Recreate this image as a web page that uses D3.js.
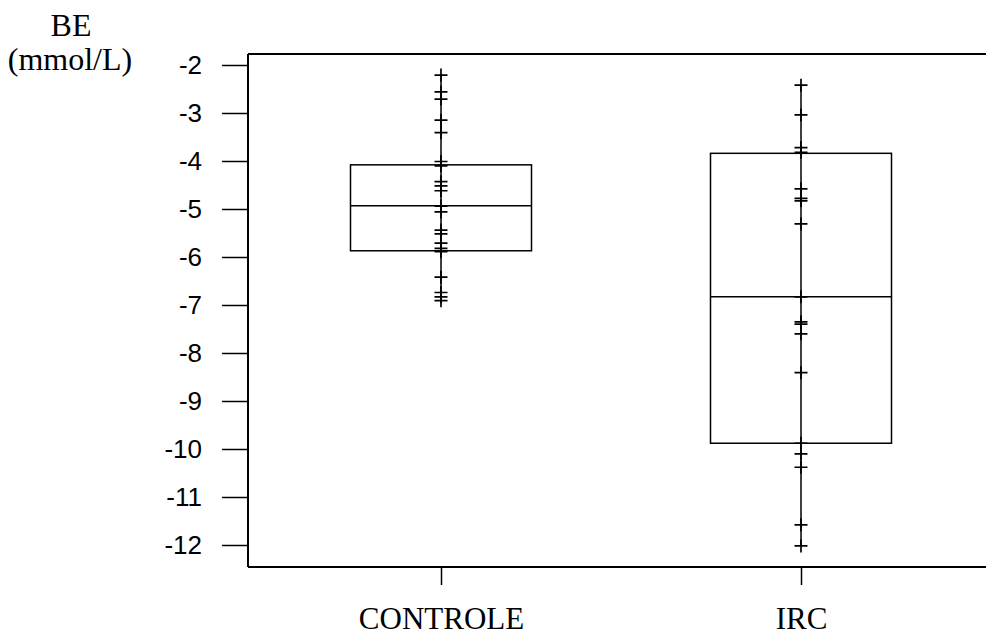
<!DOCTYPE html>
<html>
<head>
<meta charset="utf-8">
<script src="https://cdn.jsdelivr.net/npm/d3@7"></script>
<style>
  html, body { margin: 0; padding: 0; background: #fff; }
  svg { display: block; }
</style>
</head>
<body>
<svg id="chart" width="986" height="636"></svg>
<script>
// Groups shown along the horizontal axis
const groups = ["CONTROLE", "IRC"];

// Individual BE readings (mmol/L) per group
const controleValues = [-2.21, -2.56, -2.71, -3.15, -3.41, -4.01, -4.10, -4.43, -4.52, -4.62,
  -4.94, -5.06, -5.44, -5.52, -5.71, -5.82, -5.89, -6.42, -6.74, -6.83, -6.91];
const ircValues = [-2.42, -3.04, -3.72, -3.82, -4.58, -4.78, -4.83, -5.31, -6.83, -7.35,
  -7.40, -7.60, -8.41, -9.88, -10.10, -10.38, -11.58, -12.02];

// Box summaries: upper quartile, median, lower quartile
const boxUpper = [-4.08, -3.84];
const boxMedian = [-4.93, -6.83];
const boxLower = [-5.87, -9.88];

// Axis ticks
const yTicks = [-2, -3, -4, -5, -6, -7, -8, -9, -10, -11, -12];

const svg = d3.select("#chart");
const frameLeft = 248, frameRight = 986, frameTop = 54, frameBottom = 567;

const y = d3.scaleLinear().domain([-2, -12]).range([65, 545]);
const x = d3.scalePoint().domain(groups).range([441, 801]);
const boxHalf = 90.5;
const crossHalf = 6.5;

const ink = "#000";
const serif = "'Times New Roman', 'Liberation Serif', serif";

// Frame: top line and left axis
svg.append("line").attr("x1", frameLeft).attr("x2", frameRight).attr("y1", frameTop).attr("y2", frameTop)
  .attr("stroke", ink).attr("stroke-width", 2);
svg.append("line").attr("x1", frameLeft).attr("x2", frameLeft).attr("y1", frameTop).attr("y2", frameBottom)
  .attr("stroke", ink).attr("stroke-width", 2);

// Y axis
const yAxis = d3.axisLeft(y).tickValues(yTicks).tickSize(26).tickPadding(20);
const gy = svg.append("g").attr("transform", `translate(${frameLeft},0)`).call(yAxis);
gy.select(".domain").remove();
gy.selectAll(".tick line").attr("stroke", ink).attr("stroke-width", 1.5);
gy.selectAll(".tick text")
  .attr("fill", ink)
  .style("font-family", "Arial, 'Liberation Sans', sans-serif")
  .style("font-size", "26px")
  .text(d => String(d));

// X axis
const xAxis = d3.axisBottom(x).tickSize(18);
const gx = svg.append("g").attr("transform", `translate(0,${frameBottom})`).call(xAxis);
gx.select(".domain").remove();
gx.selectAll(".tick line").attr("stroke", ink).attr("stroke-width", 1.5);
gx.selectAll(".tick text")
  .attr("fill", ink)
  .attr("y", 62).attr("dy", null)
  .style("font-family", serif)
  .style("font-size", "31px");
svg.append("line").attr("x1", frameLeft).attr("x2", frameRight).attr("y1", frameBottom).attr("y2", frameBottom)
  .attr("stroke", ink).attr("stroke-width", 2);

// Y axis title
const title = svg.append("text")
  .attr("text-anchor", "middle")
  .attr("fill", ink)
  .style("font-family", serif)
  .style("font-size", "32px");
title.append("tspan").attr("x", 71).attr("y", 36).text("BE");
title.append("tspan").attr("x", 70).attr("y", 70).text("(mmol/L)");

// Boxes, whiskers and points
const series = [controleValues, ircValues];
groups.forEach((g, i) => {
  const cx = x(g);
  const vals = series[i];
  const gg = svg.append("g");

  // whisker line spanning all readings
  gg.append("line")
    .attr("x1", cx).attr("x2", cx)
    .attr("y1", y(d3.max(vals))).attr("y2", y(d3.min(vals)))
    .attr("stroke", ink).attr("stroke-width", 1.5);

  // box
  gg.append("rect")
    .attr("x", cx - boxHalf).attr("width", boxHalf * 2)
    .attr("y", y(boxUpper[i])).attr("height", y(boxLower[i]) - y(boxUpper[i]))
    .attr("fill", "none").attr("stroke", ink).attr("stroke-width", 1.5);

  // median
  gg.append("line")
    .attr("x1", cx - boxHalf).attr("x2", cx + boxHalf)
    .attr("y1", y(boxMedian[i])).attr("y2", y(boxMedian[i]))
    .attr("stroke", ink).attr("stroke-width", 1.5);

  // readings as plus marks
  gg.selectAll("path.pt").data(vals).join("path")
    .attr("class", "pt")
    .attr("d", d => {
      const py = y(d);
      return `M${cx - crossHalf},${py}H${cx + crossHalf}M${cx},${py - crossHalf}V${py + crossHalf}`;
    })
    .attr("fill", "none").attr("stroke", ink).attr("stroke-width", 1.7);
});
</script>
</body>
</html>
